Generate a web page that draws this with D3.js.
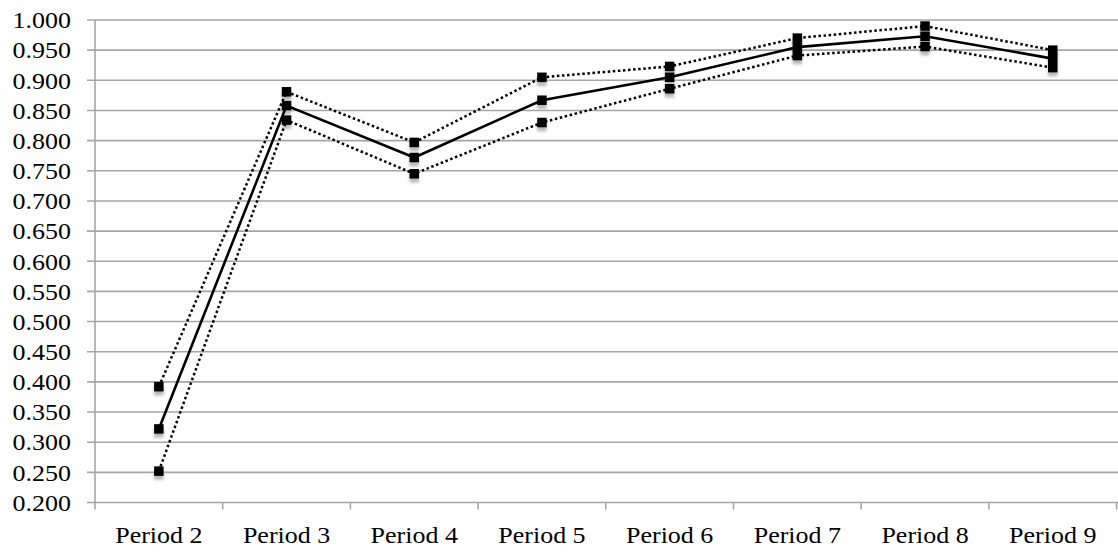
<!DOCTYPE html>
<style>
  body { margin: 0; background: #fff; }
  text { font-family: 'Liberation Serif', 'Times New Roman', Times, serif; }
</style>
<svg width="1118" height="555"></svg>
<script src="https://d3js.org/d3.v7.min.js"></script>
<script>

var periods = ["Period 2", "Period 3", "Period 4", "Period 5", "Period 6", "Period 7", "Period 8", "Period 9"];
var mean  = [0.322, 0.858, 0.772, 0.867, 0.905, 0.955, 0.973, 0.936];
var upper = [0.392, 0.881, 0.797, 0.905, 0.923, 0.970, 0.990, 0.950];
var lower = [0.252, 0.834, 0.745, 0.830, 0.886, 0.941, 0.956, 0.921];
var yTicks = [0.200, 0.250, 0.300, 0.350, 0.400, 0.450, 0.500, 0.550, 0.600,
              0.650, 0.700, 0.750, 0.800, 0.850, 0.900, 0.950, 1.000];

var svg = d3.select("svg"),
    width = +svg.attr("width"),
    height = +svg.attr("height");

var x = d3.scaleBand().domain(periods).range([95, 1116.6]);
var y = d3.scaleLinear().domain([0.2, 1.0]).range([502.5, 20]);
var fmt = d3.format(".3f");
var stretch = 1.13;

// shadow blur under the markers
var defs = svg.append("defs");
defs.append("filter").attr("id", "blur")
  .attr("x", "-50%").attr("y", "-50%").attr("width", "200%").attr("height", "200%")
  .append("feGaussianBlur").attr("stdDeviation", 1.6);

// gridlines
svg.append("g").selectAll("line")
  .data(yTicks).enter().append("line")
    .attr("x1", 87).attr("x2", width)
    .attr("y1", function(d) { return y(d); })
    .attr("y2", function(d) { return y(d); })
    .attr("stroke", "#a6a6a6")
    .attr("stroke-width", 1.6);

// y axis line
svg.append("line")
  .attr("x1", 95).attr("x2", 95)
  .attr("y1", y(1.0)).attr("y2", y(0.2))
  .attr("stroke", "#a6a6a6").attr("stroke-width", 1.6);

// x ticks
var xEdges = periods.map(function(p) { return x(p); }).concat([x.range()[1]]);
svg.append("g").selectAll("line")
  .data(xEdges).enter().append("line")
    .attr("x1", function(d) { return d; })
    .attr("x2", function(d) { return d; })
    .attr("y1", y(0.2)).attr("y2", y(0.2) + 7)
    .attr("stroke", "#a6a6a6").attr("stroke-width", 1.6);

// y labels
svg.append("g").selectAll("g")
  .data(yTicks).enter().append("g")
    .attr("transform", function(d) { return "translate(71," + (y(d) + 8.3) + ") scale(" + stretch + ",1)"; })
  .append("text")
    .attr("text-anchor", "end")
    .attr("font-family", "Liberation Serif")
    .style("font-size", "23px")
    .text(function(d) { return fmt(d); });

// x labels
svg.append("g").selectAll("g")
  .data(periods).enter().append("g")
    .attr("transform", function(d) { return "translate(" + (x(d) + x.bandwidth() / 2) + ",543) scale(" + stretch + ",1)"; })
  .append("text")
    .attr("text-anchor", "middle")
    .attr("font-family", "Liberation Serif")
    .style("font-size", "23px")
    .text(function(d) { return d; });

var cx = function(d, i) { return x(periods[i]) + x.bandwidth() / 2; };

var line = d3.line()
  .x(function(d, i) { return x(periods[i]) + x.bandwidth() / 2; })
  .y(function(d) { return y(d); });

var series = [upper, lower, mean];
var ms = 9.5;

// marker shadows
series.forEach(function(s) {
  svg.append("g").selectAll("rect")
    .data(s).enter().append("rect")
      .attr("x", function(d, i) { return cx(d, i) - ms / 2; })
      .attr("y", function(d) { return y(d) - ms / 2 + 4; })
      .attr("width", ms).attr("height", ms)
      .attr("fill", "#b8b8b8")
      .attr("filter", "url(#blur)");
});

// dotted bounds
[upper, lower].forEach(function(s) {
  svg.append("path")
    .datum(s)
    .attr("d", line)
    .attr("fill", "none")
    .attr("stroke", "#000")
    .attr("stroke-width", 2.5)
    .attr("stroke-dasharray", "2.5,2.6");
});

// solid mean line
svg.append("path")
  .datum(mean)
  .attr("d", line)
  .attr("fill", "none")
  .attr("stroke", "#000")
  .attr("stroke-width", 2.6);

// markers
series.forEach(function(s) {
  svg.append("g").selectAll("rect")
    .data(s).enter().append("rect")
      .attr("x", function(d, i) { return cx(d, i) - ms / 2; })
      .attr("y", function(d) { return y(d) - ms / 2; })
      .attr("width", ms).attr("height", ms)
      .attr("fill", "#000");
});

</script>
